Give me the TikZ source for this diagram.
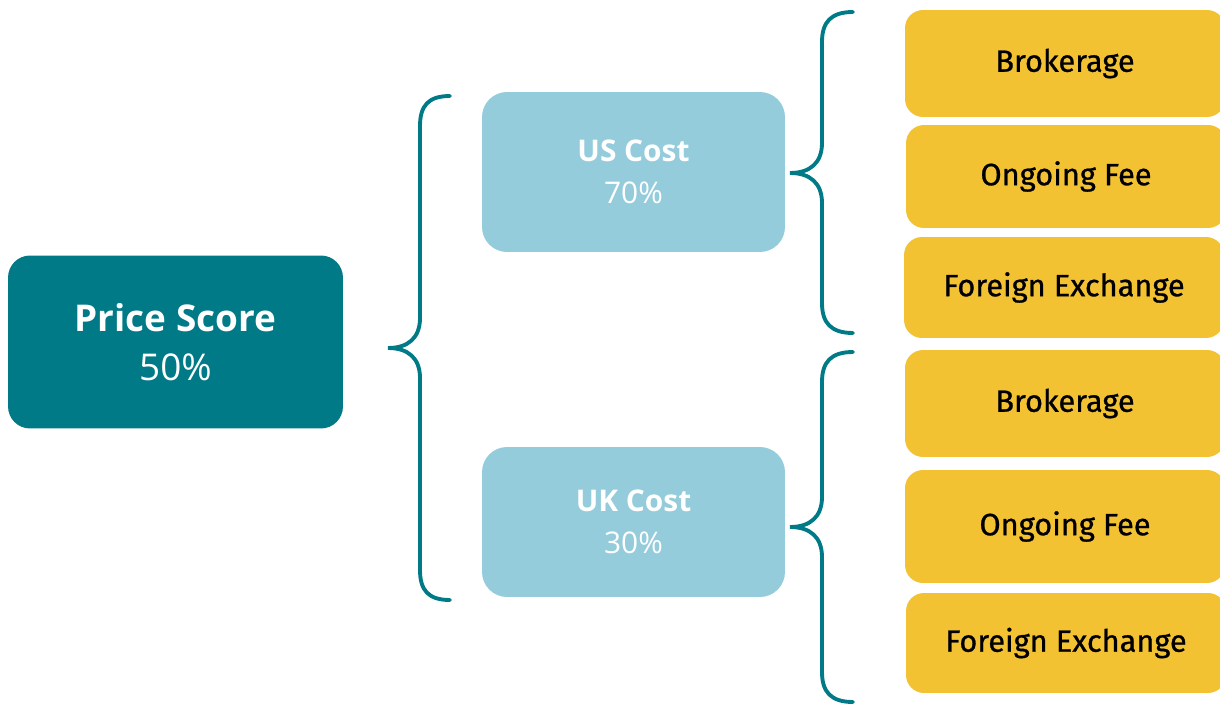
\documentclass[tikz,border=0pt]{standalone}
\usepackage{fontspec}
\setmainfont{Open Sans}
\newfontfamily\feefont[FakeBold=0.8]{Fira Sans}
\usetikzlibrary{positioning}
\definecolor{scorecolor}{HTML}{007A87}
\definecolor{costcolor}{HTML}{94CCDC}
\definecolor{feecolor}{HTML}{F2C233}

\tikzset{
  scorebox/.style={fill=scorecolor, rounded corners=0.44cm, minimum width=6.7cm,
    minimum height=3.46cm, text=white, align=center, font=\fontsize{21}{28}\selectfont},
  costbox/.style={fill=costcolor, rounded corners=0.5cm, minimum width=6.06cm,
    text=white, align=center, font=\fontsize{17}{24}\selectfont},
  feebox/.style={fill=feecolor, rounded corners=0.36cm, minimum width=6.4cm,
    font=\feefont\fontsize{17.5}{20}\selectfont},
  bracket line/.style={draw=scorecolor, line width=2.2pt, line cap=round},
}

\begin{document}
\begin{tikzpicture}[x=0.02cm, y=-0.02cm]
    \useasboundingbox (0,0) rectangle (1220,706);

    % Main score
    \node[scorebox] (price) at (175.5,342) {\textbf{Price Score}\\50\%};

    % Cost groups
    \node[costbox, minimum height=3.2cm] (us) at (633.5,172) {\textbf{US Cost}\\70\%};
    \node[costbox, minimum height=3.0cm] (uk) at (633.5,522) {\textbf{UK Cost}\\30\%};

    % Fee boxes
    \node[feebox, minimum height=2.14cm] (usbrok) at (1065,63.5) {Brokerage};
    \node[feebox, minimum height=2.06cm] (usfee)  at (1066,176.5) {Ongoing Fee};
    \node[feebox, minimum height=2.02cm] (usfx)   at (1064,287.5) {Foreign Exchange};
    \node[feebox, minimum height=2.14cm] (ukbrok) at (1065,403.5) {Brokerage};
    \node[feebox, minimum height=2.26cm] (ukfee)  at (1065,526.5) {Ongoing Fee};
    \node[feebox, minimum height=2.0cm]  (ukfx)   at (1066,643) {Foreign Exchange};

    % Braces
    % price -> us/uk
    \coordinate (pricetop) at (450,96);
    \coordinate (pricetip) at (388,348);
    \coordinate (pricebot) at (450,600);
    \draw[bracket line] (pricetop) .. controls (428,96) and (420,106) .. (420,126)
      -- (420,318) .. controls (420,338) and (408,348) .. (pricetip)
      .. controls (408,348) and (420,358) .. (420,378)
      -- (420,570) .. controls (420,590) and (428,600) .. (pricebot);

    % us -> fees
    \coordinate (ustop) at (853,12);
    \coordinate (ustip) at (790,173);
    \coordinate (usbot) at (853,333);
    \draw[bracket line] (ustop) .. controls (831,12) and (822,22) .. (822,42)
      -- (822,143) .. controls (822,163) and (810,173) .. (ustip)
      .. controls (810,173) and (822,183) .. (822,203)
      -- (822,303) .. controls (822,323) and (831,333) .. (usbot);

    % uk -> fees
    \coordinate (uktop) at (853,352);
    \coordinate (uktip) at (790,527);
    \coordinate (ukbot) at (853,702);
    \draw[bracket line] (uktop) .. controls (831,352) and (822,362) .. (822,382)
      -- (822,497) .. controls (822,517) and (810,527) .. (uktip)
      .. controls (810,527) and (822,537) .. (822,557)
      -- (822,672) .. controls (822,692) and (831,702) .. (ukbot);
\end{tikzpicture}
\end{document}
